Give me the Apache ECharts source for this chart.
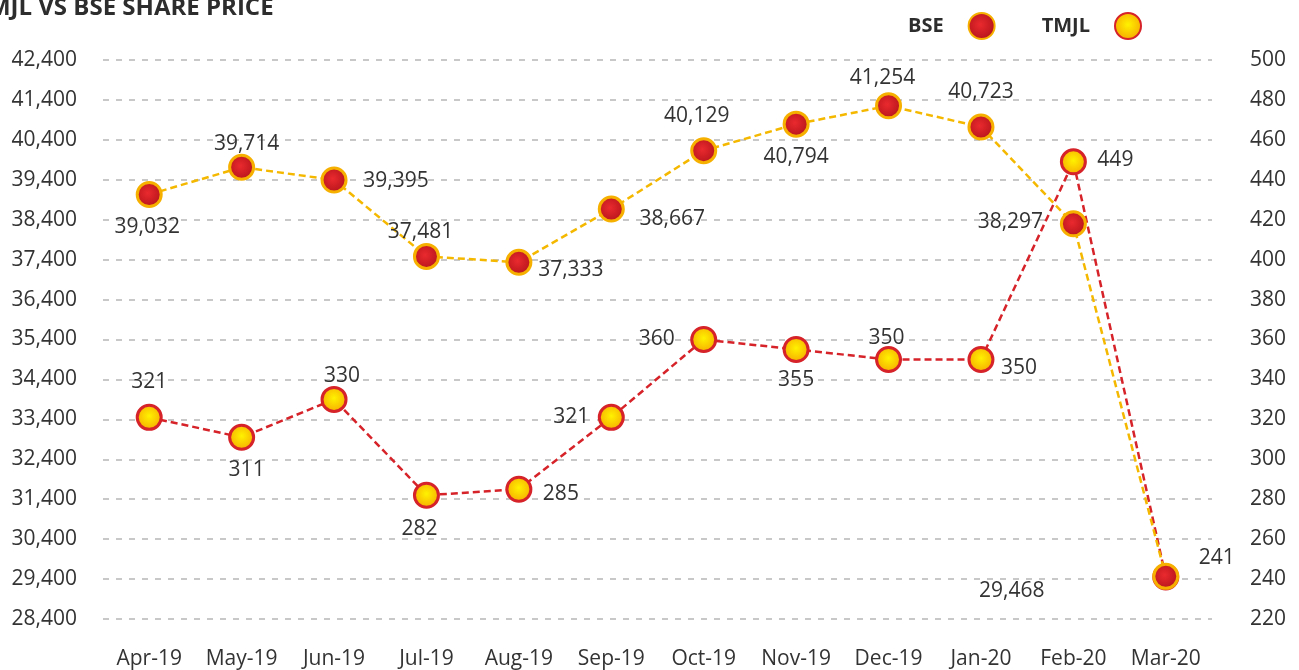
<!DOCTYPE html>
<html>
<head>
<meta charset="utf-8">
<style>
html, body { margin: 0; padding: 0; background: #fff; }
#container { width: 1299px; height: 670px; }
</style>
<script src="https://cdn.jsdelivr.net/npm/echarts@6/dist/echarts.min.js"></script>
</head>
<body>
<div id="container"></div>
<script>
// months on the x axis
var months = ['Apr-19', 'May-19', 'Jun-19', 'Jul-19', 'Aug-19', 'Sep-19', 'Oct-19', 'Nov-19', 'Dec-19', 'Jan-20', 'Feb-20', 'Mar-20'];
// BSE (left axis)
var bseValues = [39032, 39714, 39395, 37481, 37333, 38667, 40129, 40794, 41254, 40723, 38297, 29468];
// TMJL share price (right axis)
var tmjlValues = [321, 311, 330, 282, 285, 321, 360, 355, 350, 350, 449, 241];

// label offsets from the marker centre
var bseLabelOffset = [[-2, 33], [5, -23], [62, 1], [-6, -24], [52, 8], [61, 10], [-7, -35], [0, 33], [-6, -28], [0, -35], [-63, -2], [-154, 15]];
var tmjlLabelOffset = [[0, -35], [5, 33], [8, -23], [-7, 34], [42, 5], [-40, 0], [-47, 0], [0, 31], [-2, -21], [38, 9], [42, -2], [51, -19]];

var fontName = '"Open Sans", "Noto Sans", sans-serif';

function fmt(v) {
	return String(v).replace(/\B(?=(\d{3})+(?!\d))/g, ',');
}

function buildData(values, offsets) {
	var out = [];
	for (var i = 0; i < values.length; i++) {
		out.push({
			value: values[i],
			label: { offset: offsets[i] }
		});
	}
	return out;
}

var redBall = {
	type: 'radial', x: 0.45, y: 0.45, r: 0.6,
	colorStops: [{ offset: 0, color: '#ea2a2e' }, { offset: 1, color: '#b0121a' }]
};
var yellowBall = {
	type: 'radial', x: 0.5, y: 0.45, r: 0.6,
	colorStops: [{ offset: 0, color: '#fff200' }, { offset: 1, color: '#f5a300' }]
};

var labelStyle = {
	show: true,
	position: 'inside',
	fontSize: 21,
	color: '#333',
	fontFamily: fontName,
	formatter: function (p) { return fmt(p.value); }
};

var option = {
	animation: false,
	title: {
		text: 'TMJL VS BSE SHARE PRICE',
		left: -31,
		top: -9,
		textStyle: {
			fontSize: 24,
			fontWeight: 'bold',
			color: '#2d2d2d',
			fontFamily: fontName
		}
	},
	legend: {
		data: ['BSE', 'TMJL'],
		right: 152,
		top: 7,
		align: 'right',
		icon: 'circle',
		itemWidth: 26,
		itemHeight: 26,
		itemGap: 46,
		textStyle: {
			fontSize: 20,
			fontWeight: 'bold',
			color: '#2d2d2d',
			fontFamily: fontName,
			padding: [0, 20, 0, 0]
		}
	},
	grid: {
		left: 103,
		right: 87,
		top: 60,
		bottom: 51
	},
	xAxis: {
		type: 'category',
		data: months,
		boundaryGap: true,
		axisLine: { show: false },
		axisTick: { show: false },
		axisLabel: {
			fontSize: 21,
			color: '#333',
			fontFamily: fontName,
			margin: 30,
			interval: 0
		}
	},
	yAxis: [
		{
			type: 'value',
			min: 28400,
			max: 42400,
			interval: 1000,
			axisLine: { show: false },
			axisTick: { show: false },
			axisLabel: {
				fontSize: 21,
				color: '#333',
				fontFamily: fontName,
				margin: 26,
				formatter: function (v) { return fmt(v); }
			},
			splitLine: {
				lineStyle: { color: '#c8c8c8', width: 2, type: [6, 7] }
			}
		},
		{
			type: 'value',
			min: 220,
			max: 500,
			interval: 20,
			axisLine: { show: false },
			axisTick: { show: false },
			axisLabel: {
				fontSize: 21,
				color: '#333',
				fontFamily: fontName,
				margin: 38
			},
			splitLine: { show: false }
		}
	],
	series: [
		{
			name: 'TMJL',
			type: 'line',
			yAxisIndex: 1,
			z: 2,
			data: buildData(tmjlValues, tmjlLabelOffset),
			symbol: 'circle',
			symbolSize: 24,
			lineStyle: { color: '#d62229', width: 2.5, type: [7, 4] },
			itemStyle: { color: yellowBall, borderColor: '#d62229', borderWidth: 3 },
			label: labelStyle
		},
		{
			name: 'BSE',
			type: 'line',
			yAxisIndex: 0,
			z: 3,
			data: buildData(bseValues, bseLabelOffset),
			symbol: 'circle',
			symbolSize: 24,
			lineStyle: { color: '#f5b800', width: 2.5, type: [7, 4] },
			itemStyle: { color: redBall, borderColor: '#f5b000', borderWidth: 3 },
			label: labelStyle
		}
	]
};

var myChart = echarts.init(document.getElementById('container'));
myChart.setOption(option);
</script>
</body>
</html>
